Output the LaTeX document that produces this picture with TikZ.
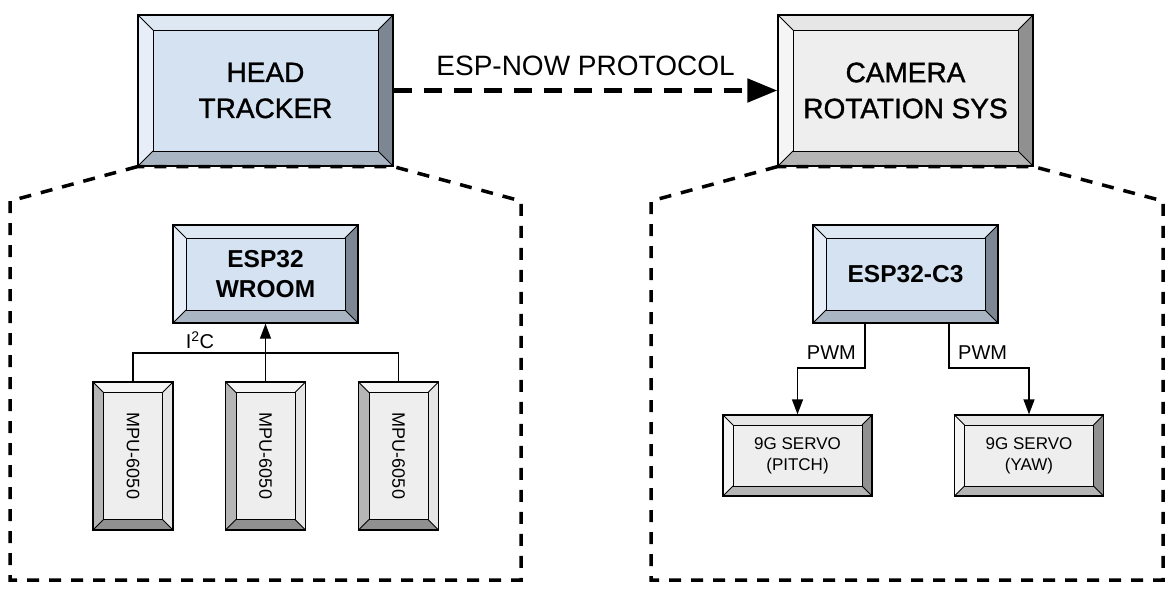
\documentclass[tikz,border=0pt]{standalone}
\usepackage{fontspec}
\usepackage{graphicx}
\setmainfont{Liberation Sans}
\newfontfamily\medfont[FakeBold=1.2]{Liberation Sans}
\usetikzlibrary{arrows.meta,calc}
\definecolor{bluein}{HTML}{D5E2F1}
\definecolor{bluetop}{HTML}{DEE8F3}
\definecolor{blueleft}{HTML}{E7EEF7}
\definecolor{blueright}{HTML}{7C8793}
\definecolor{bluebot}{HTML}{A9B5C2}
\definecolor{greyin}{HTML}{EEEEEE}
\definecolor{greytop}{HTML}{E6E6E6}
\definecolor{greyleft}{HTML}{F5F5F5}
\definecolor{greyright}{HTML}{909090}
\definecolor{greybot}{HTML}{B5B5B5}
\tikzset{
  bevelbox/.style n args={6}{rectangle, draw=black, line width=1.3pt, inner sep=0pt, align=center, fill=#6,
    path picture={
      \coordinate (bNW) at (path picture bounding box.north west);
      \coordinate (bNE) at (path picture bounding box.north east);
      \coordinate (bSW) at (path picture bounding box.south west);
      \coordinate (bSE) at (path picture bounding box.south east);
      \coordinate (iNW) at ([shift={(#1pt,-#1pt)}]bNW);
      \coordinate (iNE) at ([shift={(-#1pt,-#1pt)}]bNE);
      \coordinate (iSW) at ([shift={(#1pt,#1pt)}]bSW);
      \coordinate (iSE) at ([shift={(-#1pt,#1pt)}]bSE);
      \fill[#2] (bNW) -- (bNE) -- (iNE) -- (iNW) -- cycle;
      \fill[#3] (bNW) -- (iNW) -- (iSW) -- (bSW) -- cycle;
      \fill[#4] (bNE) -- (bSE) -- (iSE) -- (iNE) -- cycle;
      \fill[#5] (bSW) -- (bSE) -- (iSE) -- (iSW) -- cycle;
      \draw[line width=1pt] (iNW) -- (iNE) -- (iSE) -- (iSW) -- cycle;
      \draw[line width=1pt] (bNW) -- (iNW) (bNE) -- (iNE) (bSW) -- (iSW) (bSE) -- (iSE);
    }},
  bigblue/.style={bevelbox={15}{bluetop}{blueleft}{blueright}{bluebot}{bluein},
    minimum width=255pt, minimum height=151pt, font=\medfont\fontsize{28}{36}\selectfont},
  biggrey/.style={bevelbox={15}{greytop}{greyleft}{greyright}{greybot}{greyin},
    minimum width=255pt, minimum height=151pt, font=\medfont\fontsize{28}{36}\selectfont},
  mcublue/.style={bevelbox={13}{bluetop}{blueleft}{blueright}{bluebot}{bluein},
    minimum width=185pt, minimum height=98pt, font=\fontsize{24.5}{30}\selectfont\bfseries},
  mpubox/.style={bevelbox={10.5}{greyleft}{greybot}{greytop}{greyright}{greyin},
    minimum width=80pt, minimum height=148pt, font=\fontsize{18}{22}\selectfont},
  servobox/.style={bevelbox={10}{greytop}{greyleft}{greyright}{greybot}{greyin},
    minimum width=149pt, minimum height=81pt, font=\fontsize{17}{21}\selectfont},
  zoomline/.style={line width=3.5pt, dash pattern=on 12pt off 10pt},
  link/.style={line width=1.3pt},
  linkarrow/.style={line width=1.3pt, -{Triangle[length=15pt,width=11pt]}},
  lbl/.style={font=\fontsize{20}{24}\selectfont, inner sep=0pt},
}
\begin{document}
\begin{tikzpicture}[x=1pt, y=-1pt]
\useasboundingbox (0,0) rectangle (1174,592);
% top level
\node[bigblue] (ht) at (265.5,90.5) {HEAD\\TRACKER};
\node[biggrey] (cr) at (905.5,90.5) {CAMERA\\ROTATION SYS};
\draw[line width=5pt, dash pattern=on 18pt off 12pt, -{Triangle[length=30pt,width=23pt]}] (ht.east) -- (cr.west)
  node[midway, above=12pt, font=\fontsize{28}{34}\selectfont, inner sep=0pt] (proto) {ESP-NOW PROTOCOL};
% left detail
\node[mcublue] (esp) at (265.5,274) {ESP32\\WROOM};
\node[mpubox] (m1) at (133,456) {\rotatebox{-90}{MPU-6050}};
\node[mpubox] (m2) at (265.5,456) {\rotatebox{-90}{MPU-6050}};
\node[mpubox] (m3) at (398.5,456) {\rotatebox{-90}{MPU-6050}};
\coordinate (bus) at (265.5,353);
\draw[link] (m1.north) -- (m1.north |- bus) -- (m3.north |- bus) -- (m3.north);
\draw[linkarrow] (m2.north) -- (esp.south);
\node[lbl] (i2c) at (200,340) {I\textsuperscript{2}C};
% right detail
\node[mcublue] (c3) at (905.5,274) {ESP32-C3};
\node[servobox] (sp) at (797.5,455.5) {9G SERVO\\(PITCH)};
\node[servobox] (sy) at (1029,455.5) {9G SERVO\\(YAW)};
\coordinate (c3l) at (865,323);
\coordinate (c3r) at (949,323);
\draw[linkarrow] (c3l) -- (865,368) -| (sp.north);
\draw[linkarrow] (c3r) -- (949,368) -| (sy.north);
\node[lbl, anchor=east] (pwm1) at (856,353) {PWM};
\node[lbl, anchor=west] (pwm2) at (958,353) {PWM};
% zoom outlines
\draw[zoomline] (ht.south west) -- (10,201) -- (10,580) -- (521,580) -- (521,201) -- (ht.south east) -- cycle;
\draw[zoomline] (cr.south west) -- (651,201) -- (651,580) -- (1163,580) -- (1163,201) -- (cr.south east) -- cycle;
\end{tikzpicture}
\end{document}
